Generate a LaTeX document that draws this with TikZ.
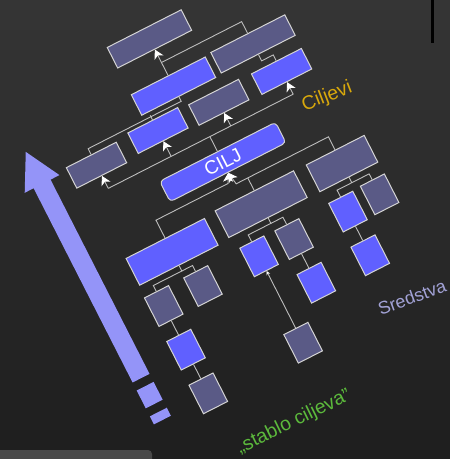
\documentclass[tikz,border=0pt]{standalone}
\usepackage{fontspec}
\setmainfont{Liberation Sans}
\usetikzlibrary{arrows.meta,positioning,shapes.misc}

\definecolor{bgtop}{HTML}{353535}
\definecolor{bgbottom}{HTML}{1E1E1E}
\definecolor{boxgrey}{HTML}{5A5A86}
\definecolor{boxblue}{HTML}{6060FF}
\definecolor{edgegrey}{HTML}{D4D4D4}
\definecolor{conngrey}{HTML}{BDBDBD}
\definecolor{arrowblue}{HTML}{9494F8}
\definecolor{goldtext}{HTML}{D8A80C}
\definecolor{lilactext}{HTML}{A2A2D6}
\definecolor{greentext}{HTML}{5CBA3C}
\definecolor{barcol}{HTML}{484848}

\begin{document}
\begin{tikzpicture}[
    x=1pt, y=1pt,
    node distance=16pt,
    goal/.style={draw=edgegrey, line width=1pt, inner sep=0pt, minimum width=56pt, minimum height=23pt},
    ggoal/.style={goal, fill=boxgrey},
    bgoal/.style={goal, fill=boxblue},
    means/.style={goal, chamfered rectangle, chamfered rectangle corners=south east, chamfered rectangle sep=4pt, minimum width=27pt, minimum height=32pt},
    gmeans/.style={means, fill=boxgrey},
    bmeans/.style={means, fill=boxblue},
    line/.style={draw=conngrey, line width=0.9pt},
    upline/.style={line, -{Stealth[length=9pt, width=10pt, inset=2.5pt, color=white]}},
    caption/.style={font=\fontsize{19.5}{19.5}\selectfont}
]
% background
\shade[top color=bgtop, bottom color=bgbottom] (0,0) rectangle (450,-459);
\useasboundingbox (0,0) rectangle (450,-459);
\fill[black] (431,0) rectangle (433.5,-43);
\fill[barcol] (0,-450) -- (148,-450) arc[start angle=90, end angle=0, radius=4] -- (152,-459) -- (0,-459) -- cycle;

\begin{scope}[rotate=27, transform shape]
% big arrow
\fill[arrowblue] (-55.5,-401) -- (-55.5,-183) -- (-65.5,-183) -- (-46,-147) -- (-26.5,-183) -- (-36.5,-183) -- (-36.5,-401) -- cycle;
\fill[arrowblue] (-55.5,-410) rectangle (-36.5,-430);
\fill[arrowblue] (-55.5,-439) rectangle (-36.5,-448);

% goals
\node[ggoal, minimum width=83pt] (top) at (115.5,-102.5) {};
\node[bgoal, minimum width=83pt] (mid) at (115.5,-155.5) {};
\node[ggoal, minimum width=83pt] (topr) at (205.5,-154) {};
\node[ggoal] (g1) at (11,-191) {};
\node[bgoal] (g2) at (81.5,-188) {};
\node[ggoal] (g3) at (148.5,-190.5) {};
\node[bgoal] (g4) at (218.5,-191.5) {};
\node[bgoal, rounded corners=4pt, minimum width=130pt, text=white, font=\fontsize{19}{19}\selectfont] (cilj) at (125,-245.5) {CILJ};

% means
\node[bmeans, minimum width=88pt, minimum height=30pt] (m1) at (39,-302.5) {};
\node[gmeans, minimum width=88pt, minimum height=30pt] (m2) at (140,-300.5) {};
\node[gmeans, minimum width=65pt, minimum height=30pt] (m3) at (230.5,-301) {};
\node[gmeans] (m1a) at (7,-347) {};
\node[gmeans] (m1b) at (51,-347) {};
\node[bmeans, below=of m1a] (m1c) {};
\node[gmeans, below=of m1c] (m1d) {};
\node[bmeans] (m2a) at (114.5,-346) {};
\node[gmeans] (m2b) at (153.5,-346.5) {};
\node[bmeans, below=of m2b] (m2c) {};
\node[gmeans] (m2d) at (114.5,-443) {};
\node[bmeans] (m3a) at (214,-346.5) {};
\node[gmeans] (m3b) at (250,-345.5) {};
\node[bmeans, below=of m3a] (m3c) {};

% goal links
\draw[upline] (mid) -- (top);
\draw[line] (115.5,-129) -- (205.5,-129) -- (topr.north);
\draw[line] (topr.south) -- ++(0,-7) -- ++(13,0) -- (g4.north);
\draw[line] (mid.south) -- ++(0,-5) -- ++(-104.5,0) -- (g1.north);
\draw[line] (g2.north) -- ++(0,5);
\draw[line] (cilj.north) -- (125,-217);
\draw[line] (11,-217) -- (218.5,-217);
\draw[upline] (11,-217) -- (g1.south);
\draw[upline] (81.5,-217) -- (g2.south);
\draw[upline] (148.5,-217) -- (g3.south);
\draw[upline] (218.5,-217) -- (g4.south);

% means links
\draw[upline] (m1.north) -- (39,-267) -- (120,-267) -- (cilj.south);
\draw[upline] (m3.north) -- (230.5,-271) -- (127,-271) -- (cilj.south);
\draw[line] (m2.north) -- (140,-271);
\draw[line] (m1.south) -- ++(0,-6) -- ++(-32,0) -- (m1a.north);
\draw[line] (m1.south) ++(0,-6) -- ++(12,0) -- (m1b.north);
\draw[line] (m2.south) -- ++(0,-6) -- ++(-25.5,0) -- (m2a.north);
\draw[line] (m2.south) ++(0,-6) -- ++(13.5,0) -- (m2b.north);
\draw[line] (m3.south) -- ++(0,-6) -- ++(-16.5,0) -- (m3a.north);
\draw[line] (m3.south) ++(0,-6) -- ++(19.5,0) -- (m3b.north);
\draw[line] (m1a) -- (m1c);
\draw[line] (m1c) -- (m1d);
\draw[line] (m2b) -- (m2c);
\draw[line] (m3a) -- (m3c);
\draw[line, -{Stealth[length=4pt, width=4pt, color=white]}] (m2d) -- (m2a);
\end{scope}

% captions
\node[caption, text=goldtext, rotate=21] (ciljevi) at (327,-97) {Ciljevi};
\node[caption, text=lilactext, rotate=20, font=\fontsize{18}{18}\selectfont] (sredstva) at (412,-297) {Sredstva};
\node[caption, text=greentext, rotate=26] (stablo) at (294,-422) {„stablo ciljeva”};
\end{tikzpicture}
\end{document}
